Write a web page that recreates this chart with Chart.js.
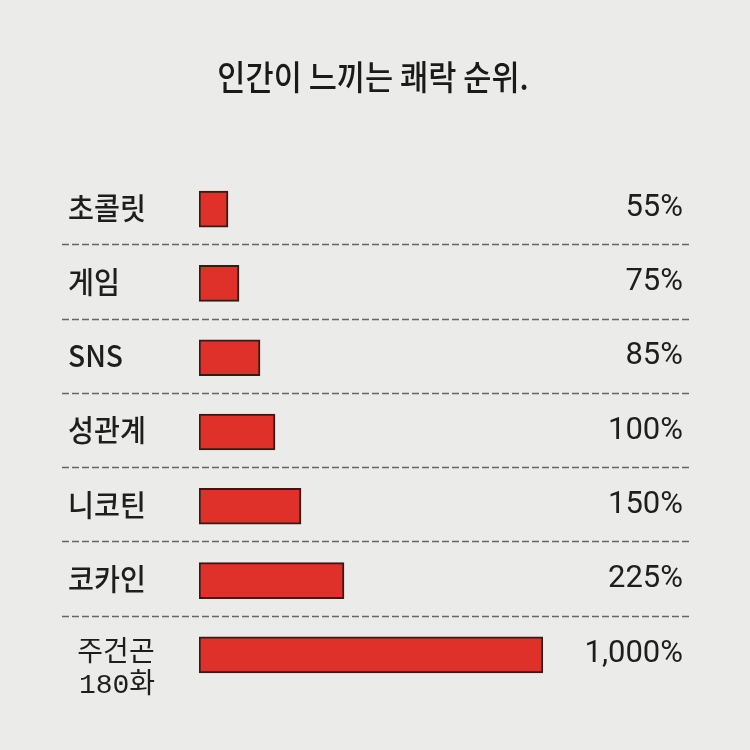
<!DOCTYPE html>
<html>
<head>
<meta charset="utf-8">
<script src="https://cdn.jsdelivr.net/npm/chart.js@4/dist/chart.umd.min.js"></script>
<style>
  html, body { margin: 0; padding: 0; background: #ebebea; }
  #wrap { width: 750px; height: 750px; position: relative; }
</style>
</head>
<body>
<div id="wrap"><canvas id="c" width="750" height="750"></canvas></div>
<script>
const chartTitle = '인간이 느끼는 쾌락 순위.';
const categories = ['초콜릿', '게임', 'SNS', '성관계', '니코틴', '코카인', ['주건곤', '180화']];
const pleasurePct = [55, 75, 85, 100, 150, 225, 1000];
const valueLabels = ['55%', '75%', '85%', '100%', '150%', '225%', '1,000%'];
// drawn bar lengths as they appear in the picture (not proportional to the percentages)
const barLengths = [29, 40, 61, 76, 102, 145, 344];

function condensedText(ctx, text, x, y, sx) {
  ctx.save();
  ctx.translate(x, y);
  ctx.scale(sx, 1);
  ctx.fillText(text, 0, 0);
  ctx.restore();
}

const overlay = {
  id: 'overlay',
  beforeDatasetsDraw(chart) {
    const ctx = chart.ctx;
    const y = chart.scales.y;
    ctx.save();
    ctx.strokeStyle = '#666666';
    ctx.lineWidth = 1.5;
    ctx.setLineDash([7, 3]);
    for (let i = 0; i < categories.length - 1; i++) {
      const yy = Math.round((y.getPixelForTick(i) + y.getPixelForTick(i + 1)) / 2) - 1.5;
      ctx.beginPath();
      ctx.moveTo(62, yy);
      ctx.lineTo(690, yy);
      ctx.stroke();
    }
    ctx.restore();
  },
  afterDatasetsDraw(chart) {
    const ctx = chart.ctx;
    const y = chart.scales.y;
    ctx.save();
    // title
    ctx.fillStyle = '#1a1a1a';
    ctx.textAlign = 'center';
    ctx.textBaseline = 'middle';
    ctx.font = '500 34px "Noto Sans CJK KR"';
    condensedText(ctx, chartTitle, 373, 77, 0.9);
    // category labels
    categories.forEach((cat, i) => {
      const cy = y.getPixelForTick(i);
      if (Array.isArray(cat)) {
        ctx.textAlign = 'center';
        ctx.fillStyle = '#1e1e1e';
        ctx.font = '400 28px "Noto Sans CJK KR"';
        ctx.fillText(cat[0], 116, cy - 4);
        ctx.font = '400 28px "Liberation Mono", "Noto Sans CJK KR"';
        ctx.fillText(cat[1], 117, cy + 31);
      } else {
        ctx.textAlign = 'left';
        ctx.fillStyle = '#1e1e1e';
        ctx.font = '500 30px "Noto Sans CJK KR"';
        condensedText(ctx, cat, 68, cy - 2, 0.94);
      }
      ctx.textAlign = 'right';
      ctx.font = '400 31px Roboto';
      ctx.fillText(valueLabels[i], 683, cy - 1);
    });
    ctx.restore();
  }
};

new Chart(document.getElementById('c'), {
  type: 'bar',
  data: {
    labels: categories,
    datasets: [{
      label: '쾌락',
      data: barLengths,
      backgroundColor: '#e0302a',
      borderColor: '#361a16',
      borderWidth: 2,
      borderSkipped: false,
      barThickness: 36
    }]
  },
  options: {
    indexAxis: 'y',
    responsive: false,
    animation: false,
    layout: { padding: { left: 199, right: 207, top: 172, bottom: 58 } },
    scales: {
      x: { display: false, min: 0, max: 344 },
      y: { display: false }
    },
    plugins: {
      legend: { display: false },
      tooltip: { enabled: false }
    }
  },
  plugins: [overlay]
});
</script>
</body>
</html>
